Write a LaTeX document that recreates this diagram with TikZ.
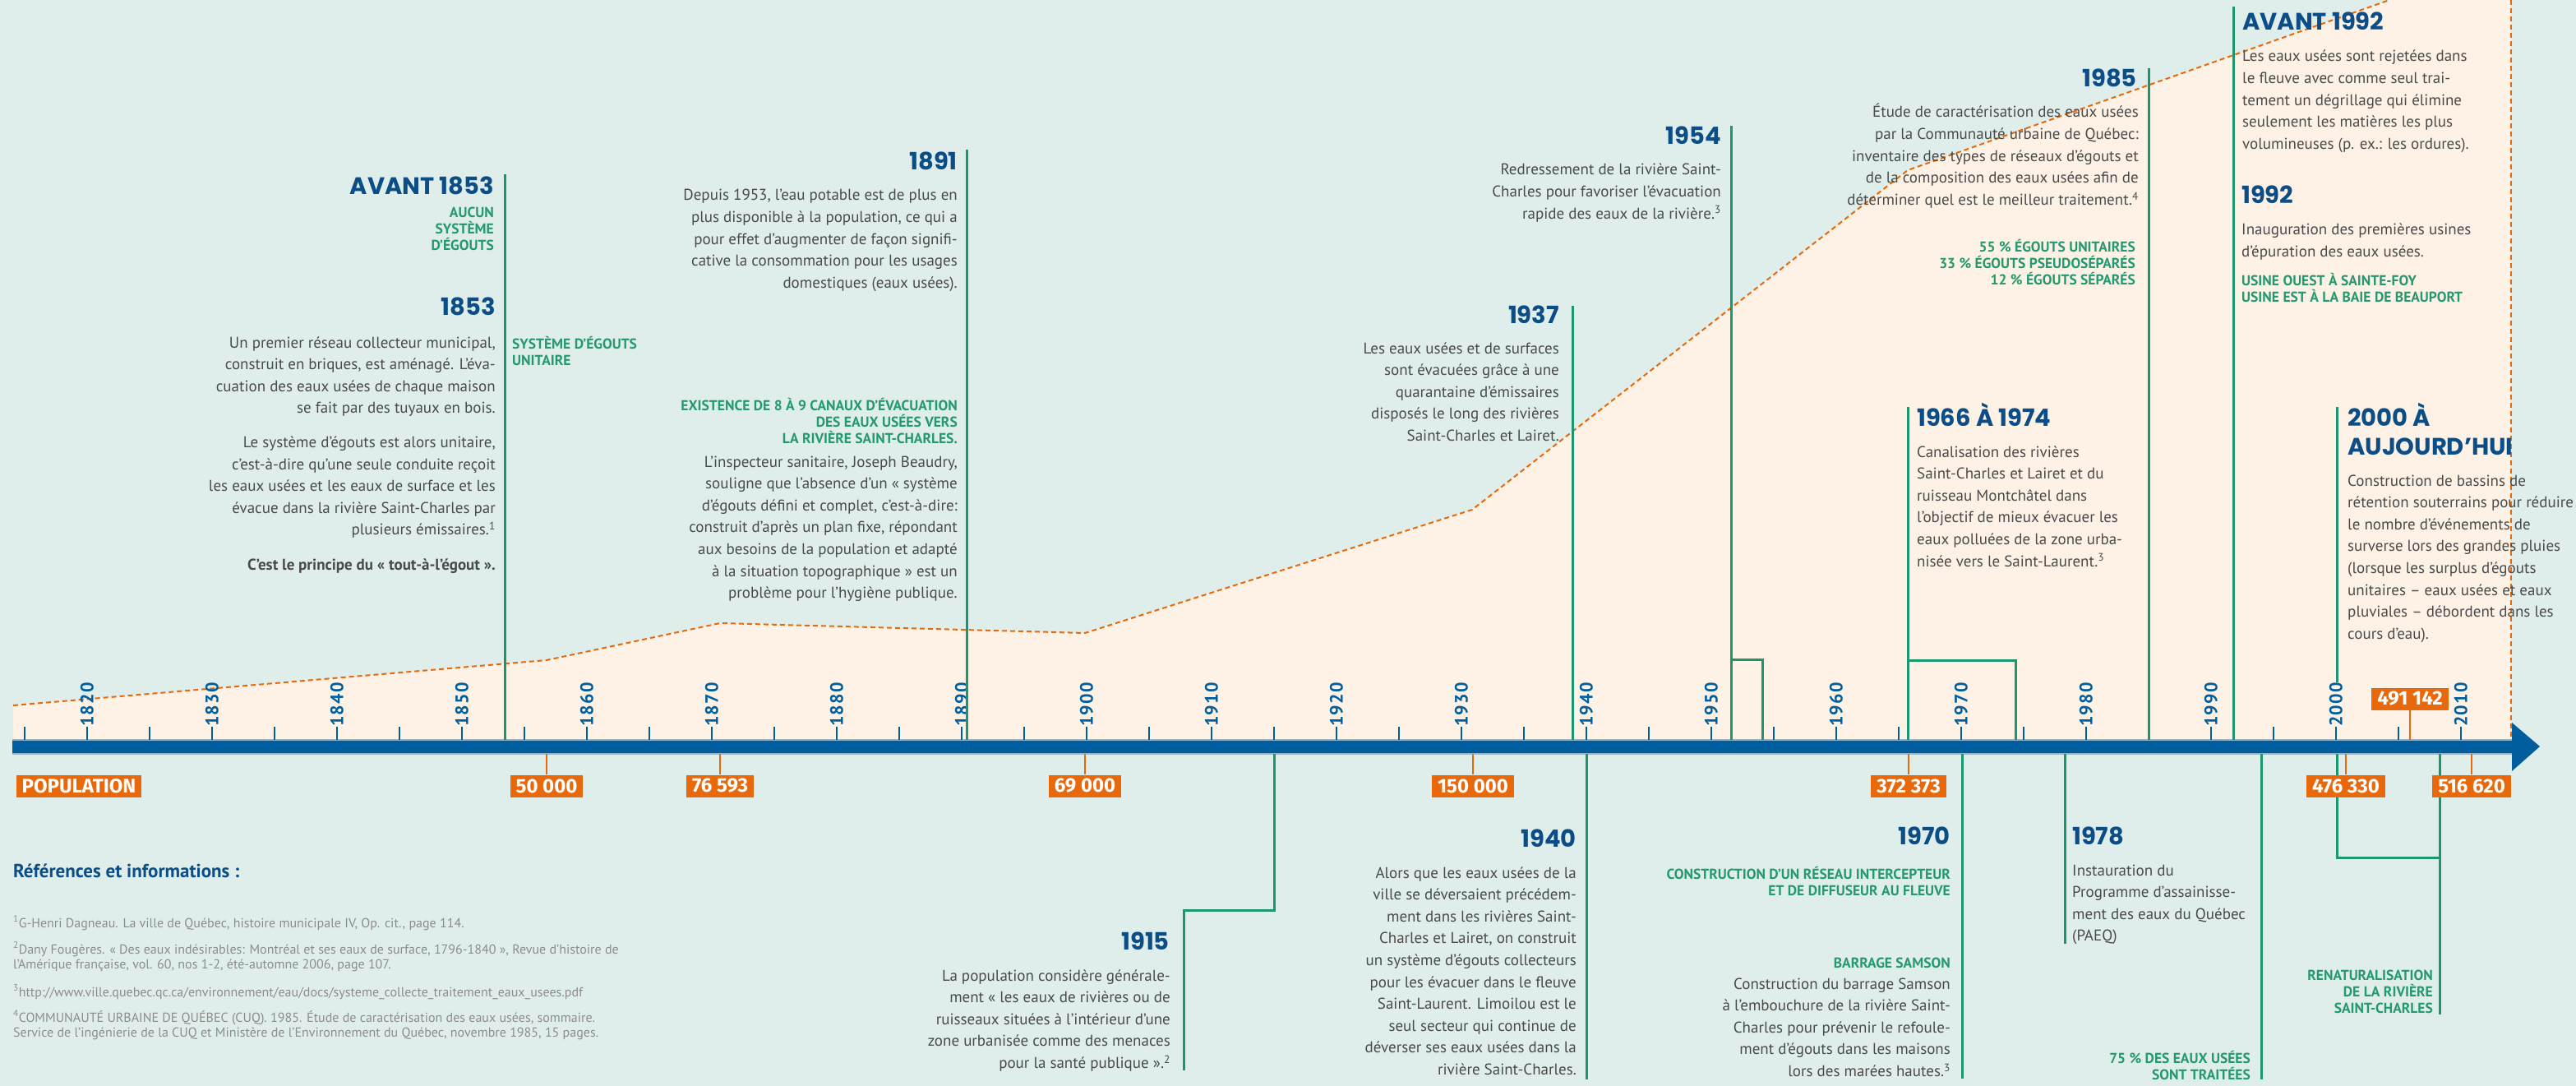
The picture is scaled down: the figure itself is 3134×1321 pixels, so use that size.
\documentclass[tikz,border=0pt]{standalone}
\usepackage{fontspec}
\setmainfont{PT Sans}
\newfontfamily\headfont{Poppins}
\newfontfamily\tagfont{Fira Sans}
\definecolor{bgteal}{HTML}{DFEEEB}
\definecolor{peach}{HTML}{FEF2E6}
\definecolor{popor}{HTML}{E8690B}
\definecolor{axblue}{HTML}{005E9E}
\definecolor{headblue}{HTML}{0B4D87}
\definecolor{evgreen}{HTML}{1B9670}
\definecolor{capgreen}{HTML}{24996F}
\definecolor{bodygray}{HTML}{4A4A4A}
\definecolor{refgray}{HTML}{8C8C8C}
\newcommand{\bodysz}{\fontsize{19}{26.6}\selectfont}
\newcommand{\headsz}{\headfont\bfseries\fontsize{29}{35}\selectfont}
\newcommand{\capsz}{\bfseries\fontsize{17.5}{20}\selectfont}
\newcommand{\refsz}{\fontsize{16}{18}\selectfont}
\newcommand{\sups}[1]{\textsuperscript{#1}}

\begin{document}
\begin{tikzpicture}[x=1pt,y=-1pt,
  body/.style={font=\bodysz,text=bodygray,inner sep=0pt},
  bodyr/.style={body,align=right,anchor=base east},
  bodyl/.style={body,align=left,anchor=base west},
  headr/.style={font=\headsz,text=headblue,inner sep=0pt,anchor=base east},
  headl/.style={font=\headsz,text=headblue,inner sep=0pt,anchor=base west,align=left},
  capsr/.style={font=\capsz,text=capgreen,inner sep=0pt,align=right,anchor=base east},
  capsl/.style={font=\capsz,text=capgreen,inner sep=0pt,align=left,anchor=base west},
  evline/.style={evgreen,line width=3pt},
  axtick/.style={axblue,line width=2.5pt},
  yearlbl/.style={font=\bfseries\fontsize{22}{22}\selectfont\addfontfeatures{LetterSpace=6},
    text=axblue,rotate=90,inner sep=0pt},
  poptag/.style={fill=popor,text=white,font=\tagfont\bfseries\fontsize{24}{24}\selectfont,
    inner xsep=7pt,inner ysep=0pt,minimum height=27pt},
  popconn/.style={popor,line width=2pt},
  popline/.style={popor,line width=2pt,dash pattern=on 6pt off 4pt},
  reff/.style={font=\refsz,text=refgray,inner sep=0pt,anchor=base west,align=left}]
\useasboundingbox (0,0) rectangle (3134,1321);
\fill[bgteal] (0,0) rectangle (3134,1321);
\clip (0,0) rectangle (3134,1321);

% population curve
\fill[peach] (16,858) -- (665,803) -- (876,758) -- (1320,770) -- (1791,620)
  -- (2321,207) -- (2907,0) -- (3055,0) -- (3055,900) -- (16,900) -- cycle;
\draw[popline] (16,858) -- (665,803) -- (876,758) -- (1320,770) -- (1791,620)
  -- (2321,207) -- (2907,0);
\draw[popline] (3055,0) -- (3055,900);

% axis
\coordinate (axtop) at (0,900);
\coordinate (axbot) at (0,917);
\fill[axblue] (15,900) rectangle (3056,917);
\draw[axblue!45,line width=1.5pt] (15,900) -- (3056,900) (15,917) -- (3056,917);
\fill[axblue] (3056,879) -- (3090,908) -- (3056,938) -- cycle;
\foreach \k in {0,...,39}
  \draw[axtick] ({30+\k*76},884) -- ({30+\k*76},900);
\foreach \y in {1820,1830,...,2010}
  \node[yearlbl] (yr\y) at ({106+(\y-1820)*15.2},857) {\y};

% event lines above
\foreach \n/\x/\t in {a1853/614/212,a1891/1176/182,a1937/1913/372,a1954/2106/153,
    a1966/2321/495,a1985/2614/83,a1992/2717/8}{
  \coordinate (\n) at (\x,\t);
  \draw[evline] (\n) -- (\n |- axtop);
}
\coordinate (k1954) at (2106,802);
\coordinate (e1954) at (2144,900);
\draw[evline] (k1954) -| (e1954);
\coordinate (k1966) at (2321,803);
\coordinate (e1966) at (2452,900);
\draw[evline] (k1966) -| (e1966);
\coordinate (a2000) at (2843,495);
\coordinate (z2000) at (2843,830);
\draw[evline] (a2000) -- (z2000);

% event lines below
\coordinate (b1915) at (1550,917);
\coordinate (k1915) at (1550,1107);
\coordinate (z1915) at (1440,1302);
\draw[evline] (b1915) -- (k1915) -| (z1915);
\foreach \n/\x/\b in {b1940/1930/1313,b1970/2387/1312,b1978/2512/1148,b1994/2751/1313}{
  \coordinate (\n) at (\x,\b);
  \draw[evline] (\n |- axbot) -- (\n);
}
\coordinate (b2000) at (2843,917);
\coordinate (k2000) at (2968,1043);
\coordinate (z2000b) at (2968,1234);
\draw[evline] (b2000) |- (k2000);
\draw[evline] (z2000b |- axbot) -- (z2000b);

% population tags
\node[poptag] (poplbl) at (96,956) {POPULATION};
\foreach \n/\x/\v in {p1856/665/50 000,p1870/876/76 593,p1900/1320/69 000,
    p1931/1792/150 000,p1966/2322/372 373,p2001/2854/476 330,p2011/3007/516 620}{
  \node[poptag] (\n) at (\x,956) {\v};
  \draw[popconn] (\n.north) -- (\n.north |- axbot);
}
\node[poptag] (p2006) at (2932,850) {491 142};
\draw[popconn] (p2006.south) -- (p2006.south |- axtop);

% 1853
\node[headr] (h1853a) at (601,237) {AVANT 1853};
\node[capsr] (c1853a) at (601,{264.5+2*20}) {AUCUN\\SYSTÈME\\D’ÉGOUTS};
\node[headr] (h1853) at (603,384) {1853};
\node[bodyr] (t1853a) at (603,{423+3*26.6}) {Un premier réseau collecteur municipal,\\
  construit en briques, est aménagé. L’éva-\\cuation des eaux usées de chaque maison\\
  se fait par des tuyaux en bois.};
\node[bodyr] (t1853b) at (603,{544.5+4*26.6}) {Le système d’égouts est alors unitaire,\\
  c’est-à-dire qu’une seule conduite reçoit\\les eaux usées et les eaux de surface et les\\
  évacue dans la rivière Saint-Charles par\\plusieurs émissaires.\sups{1}};
\node[bodyr,font=\bodysz\bfseries] (t1853c) at (603,693.5) {C’est le principe du « tout-à-l’égout ».};
\node[capsl] (c1853) at (623,{424+20}) {SYSTÈME D’ÉGOUTS\\UNITAIRE};

% 1891
\node[headr] (h1891) at (1165,207) {1891};
\node[bodyr] (t1891a) at (1165,{244+4*26.6}) {Depuis 1953, l’eau potable est de plus en\\
  plus disponible à la population, ce qui a\\pour effet d’augmenter de façon signifi-\\
  cative la consommation pour les usages\\domestiques (eaux usées).};
\node[capsr] (c1891) at (1165,{499+2*20}) {EXISTENCE DE 8 À 9 CANAUX D’ÉVACUATION\\
  DES EAUX USÉES VERS\\LA RIVIÈRE SAINT-CHARLES.};
\node[bodyr] (t1891b) at (1165,{568+6*26.6}) {L’inspecteur sanitaire, Joseph Beaudry,\\
  souligne que l’absence d’un « système\\d’égouts défini et complet, c’est-à-dire:\\
  construit d’après un plan fixe, répondant\\aux besoins de la population et adapté\\
  à la situation topographique » est un\\problème pour l’hygiène publique.};

% 1937 and 1954
\node[headr] (h1937) at (1897,393) {1937};
\node[bodyr] (t1937) at (1897,{430+4*26.6}) {Les eaux usées et de surfaces\\sont évacuées grâce à une\\
  quarantaine d’émissaires\\disposés le long des rivières\\Saint-Charles et Lairet.};
\node[headr] (h1954) at (2094,176) {1954};
\node[bodyr] (t1954) at (2094,{213+2*26.6}) {Redressement de la rivière Saint-\\
  Charles pour favoriser l’évacuation\\rapide des eaux de la rivière.\sups{3}};

% 1985
\node[headr] (h1985) at (2600,106) {1985};
\node[bodyr] (t1985) at (2602,{143+4*26.6}) {Étude de caractérisation des eaux usées\\
  par la Communauté urbaine de Québec:\\inventaire des types de réseaux d’égouts et\\
  de la composition des eaux usées afin de\\déterminer quel est le meilleur traitement.\sups{4}};
\node[capsr] (c1985) at (2598,{307+2*20}) {55 \% ÉGOUTS UNITAIRES\\33 \% ÉGOUTS PSEUDOSÉPARÉS\\
  12 \% ÉGOUTS SÉPARÉS};

% 1992
\node[headl] (h1992a) at (2728,37) {AVANT 1992};
\node[bodyl] (t1992a) at (2728,{75+4*26.6}) {Les eaux usées sont rejetées dans\\
  le fleuve avec comme seul trai-\\tement un dégrillage qui élimine\\
  seulement les matières les plus\\volumineuses (p. ex.: les ordures).};
\node[headl] (h1992) at (2727,248) {1992};
\node[bodyl] (t1992) at (2727,{286+26.6}) {Inauguration des premières usines\\d’épuration des eaux usées.};
\node[capsl] (c1992) at (2727,{347+20}) {USINE OUEST À SAINTE-FOY\\USINE EST À LA BAIE DE BEAUPORT};

% 1966 and 2000
\node[headl] (h1966) at (2332,518) {1966 À 1974};
\node[bodyl] (t1966) at (2332,{556+5*26.6}) {Canalisation des rivières\\Saint-Charles et Lairet et du\\
  ruisseau Montchâtel dans\\l’objectif de mieux évacuer les\\
  eaux polluées de la zone urba-\\nisée vers le Saint-Laurent.\sups{3}};
\node[headl] (h2000) at (2856,{518+35}) {2000 À\\AUJOURD’HUI};
\node[bodyl] (t2000) at (2856,{591+7*26.6}) {Construction de bassins de\\
  rétention souterrains pour réduire\\le nombre d’événements de\\
  surverse lors des grandes pluies\\(lorsque les surplus d’égouts\\
  unitaires – eaux usées et eaux\\pluviales – débordent dans les\\cours d’eau).};

% below the axis
\node[headr] (h1915) at (1423,1155) {1915};
\node[bodyr] (t1915) at (1424,{1193+4*26.6}) {La population considère générale-\\
  ment « les eaux de rivières ou de\\ruisseaux situées à l’intérieur d’une\\
  zone urbanisée comme des menaces\\pour la santé publique ».\sups{2}};
\node[headr] (h1940) at (1918,1030) {1940};
\node[bodyr] (t1940) at (1918,{1068+9*26.6}) {Alors que les eaux usées de la\\
  ville se déversaient précédem-\\ment dans les rivières Saint-\\
  Charles et Lairet, on construit\\un système d’égouts collecteurs\\
  pour les évacuer dans le fleuve\\Saint-Laurent. Limoilou est le\\
  seul secteur qui continue de\\déverser ses eaux usées dans la\\rivière Saint-Charles.};
\node[headr] (h1970) at (2373,1027) {1970};
\node[capsr] (c1970a) at (2373,{1069+20}) {CONSTRUCTION D’UN RÉSEAU INTERCEPTEUR\\ET DE DIFFUSEUR AU FLEUVE};
\node[capsr] (c1970b) at (2373,1177) {BARRAGE SAMSON};
\node[bodyr] (t1970) at (2373,{1203+4*26.6}) {Construction du barrage Samson\\
  à l’embouchure de la rivière Saint-\\Charles pour prévenir le refoule-\\
  ment d’égouts dans les maisons\\lors des marées hautes.\sups{3}};
\node[headl] (h1978) at (2521,1027) {1978};
\node[bodyl] (t1978) at (2521,{1065+3*26.6}) {Instauration du\\Programme d’assainisse-\\
  ment des eaux du Québec\\(PAEQ)};
\node[capsr] (c1994) at (2738,{1293+20}) {75 \% DES EAUX USÉES\\SONT TRAITÉES};
\node[capsr] (c2000) at (2960,{1192+2*20}) {RENATURALISATION\\DE LA RIVIÈRE\\SAINT-CHARLES};

% references
\node[anchor=base west,inner sep=0pt,text=headblue,font=\bfseries\fontsize{23}{23}\selectfont]
  (refs) at (16,1067) {Références et informations :};
\node[reff] (fn1) at (16,1128) {\sups{1}G-Henri Dagneau. La ville de Québec, histoire municipale IV, Op. cit., page 114.};
\node[reff] (fn2) at (16,{1160+18}) {\sups{2}Dany Fougères. « Des eaux indésirables: Montréal et ses eaux de surface, 1796-1840 », Revue d’histoire de\\
  l’Amérique française, vol. 60, nos 1-2, été-automne 2006, page 107.};
\node[reff] (fn3) at (16,1212) {\sups{3}http://www.ville.quebec.qc.ca/environnement/eau/docs/systeme\_collecte\_traitement\_eaux\_usees.pdf};
\node[reff] (fn4) at (16,{1243+18}) {\sups{4}COMMUNAUTÉ URBAINE DE QUÉBEC (CUQ). 1985. Étude de caractérisation des eaux usées, sommaire.\\
  Service de l’ingénierie de la CUQ et Ministère de l’Environnement du Québec, novembre 1985, 15 pages.};
\end{tikzpicture}
\end{document}
